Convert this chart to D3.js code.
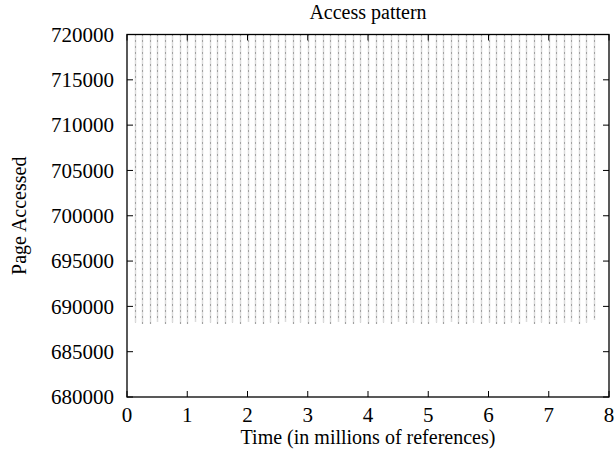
<!DOCTYPE html>
<html><head><meta charset="utf-8">
<script src="https://cdn.jsdelivr.net/npm/d3@7"></script>
<style>body{margin:0;background:#fff}svg text{font-family:"Liberation Serif","Times New Roman",serif}</style>
</head><body><svg id="c" width="615" height="455"></svg>
<script>
const title = "Access pattern";
const xLabel = "Time (in millions of references)";
const yLabel = "Page Accessed";
const xTicks = [0,1,2,3,4,5,6,7,8];
const yTicks = [680000,685000,690000,695000,700000,705000,710000,715000,720000];
// times (millions of references) of each access burst
const burstTimes = [0.125,0.25,0.375,0.5,0.625,0.75,0.875,1.0,1.125,1.25,1.375,1.5,1.625,1.75,1.875,2.0,
 2.125,2.25,2.375,2.5,2.625,2.75,2.875,3.0,3.125,3.25,3.375,3.5,3.625,3.75,3.875,4.0,
 4.125,4.25,4.375,4.5,4.625,4.75,4.875,5.0,5.125,5.25,5.375,5.5,5.625,5.75,5.875,6.0,
 6.125,6.25,6.375,6.5,6.625,6.75,6.875,7.0,7.125,7.25,7.375,7.5,7.625,7.75];
// lowest / highest page accessed in each burst
const burstLow = [688200,688100,688000,688300,688100,688200,688100,688000,688300,688100,688200,688100,688000,688200,688100,688300,
 688100,688000,688200,688100,688300,688100,688200,688000,688100,688200,688100,688300,688100,688000,688200,688100,
 688100,688200,688000,688300,688100,688200,688100,688000,688200,688100,688300,688100,688000,688200,688100,688200,
 688100,688000,688200,688100,688300,688100,688200,688100,688000,688200,688300,688100,688200,688500];
const burstHigh = burstTimes.map(() => 720000);

const svg = d3.select("#c");
const m = {l:127, r:609, t:34.5, b:397};
const x = d3.scaleLinear().domain([0,8]).range([m.l, m.r]);
const y = d3.scaleLinear().domain([680000,720000]).range([m.b, m.t]);

const g = svg.append("g");
const bursts = burstTimes.map((t,i)=>({t, lo: burstLow[i], hi: burstHigh[i]}));
g.selectAll("line.b").data(bursts).join("line").attr("class","b")
  .attr("x1", d=>Math.round(x(d.t))+0.5).attr("x2", d=>Math.round(x(d.t))+0.5)
  .attr("y1", d=>y(d.hi)).attr("y2", d=>y(d.lo))
  .attr("stroke","#b8b8b8").attr("stroke-width",1.5).attr("stroke-dasharray","1,1");
g.selectAll("line.d").data(bursts).join("line").attr("class","d")
  .attr("x1", d=>Math.round(x(d.t))+0.5).attr("x2", d=>Math.round(x(d.t))+0.5)
  .attr("y1", d=>y(d.hi)).attr("y2", d=>y(d.lo))
  .attr("stroke","#666").attr("stroke-width",1).attr("stroke-dasharray","1,5");

// frame
svg.append("rect").attr("x",m.l).attr("y",m.t).attr("width",m.r-m.l).attr("height",m.b-m.t)
  .attr("fill","none").attr("stroke","#000").attr("stroke-width",1.3);

const tl = 6;
const xt = svg.append("g");
xTicks.forEach(v=>{
  xt.append("line").attr("x1",x(v)).attr("x2",x(v)).attr("y1",m.b).attr("y2",m.b-tl).attr("stroke","#000");
  xt.append("line").attr("x1",x(v)).attr("x2",x(v)).attr("y1",m.t).attr("y2",m.t+tl).attr("stroke","#000");
  xt.append("text").attr("x",x(v)).attr("y",m.b+25).attr("text-anchor","middle").attr("font-size",21).text(v);
});
const yt = svg.append("g");
yTicks.forEach(v=>{
  yt.append("line").attr("x1",m.l).attr("x2",m.l+tl).attr("y1",y(v)).attr("y2",y(v)).attr("stroke","#000");
  yt.append("line").attr("x1",m.r).attr("x2",m.r-tl).attr("y1",y(v)).attr("y2",y(v)).attr("stroke","#000");
  yt.append("text").attr("x",m.l-13).attr("y",y(v)).attr("dy","0.35em").attr("text-anchor","end").attr("font-size",21).text(v);
});

svg.append("text").attr("x",(m.l+m.r)/2).attr("y",19).attr("text-anchor","middle").attr("font-size",20).text(title);
svg.append("text").attr("x",(m.l+m.r)/2).attr("y",444).attr("text-anchor","middle").attr("font-size",20).text(xLabel);
svg.append("text").attr("transform",`translate(26,${(m.t+m.b)/2}) rotate(-90)`).attr("text-anchor","middle").attr("font-size",20).text(yLabel);
</script></body></html>
